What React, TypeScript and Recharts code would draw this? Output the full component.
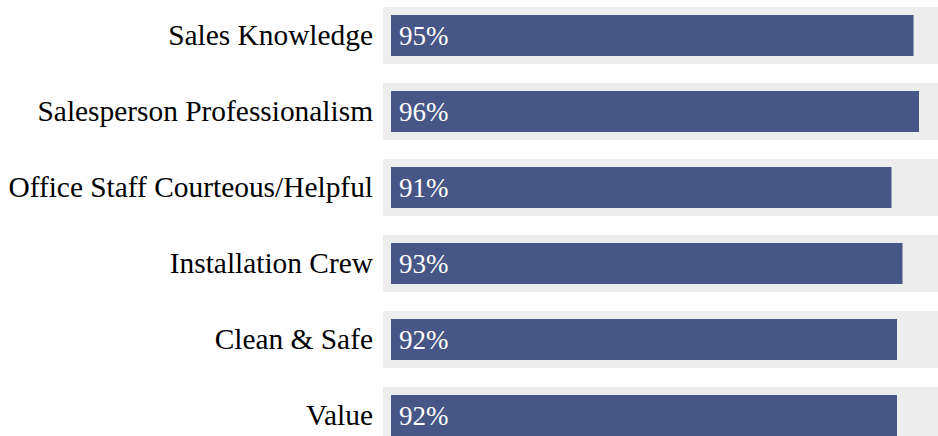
import React from "react";
import { BarChart, Bar, XAxis, YAxis, LabelList } from "recharts";

const categories = [
  "Sales Knowledge",
  "Salesperson Professionalism",
  "Office Staff Courteous/Helpful",
  "Installation Crew",
  "Clean & Safe",
  "Value",
];
const values = [95, 96, 91, 93, 92, 92];

const data = categories.map((name, i) => ({ name, value: values[i] }));

const BAR_COLOR = "#465686";
const BG_COLOR = "#ededed";
const FONT = "Liberation Serif";

const Background = (props: any) => {
  const { x, y, width, height } = props;
  return (
    <rect
      x={x - 8}
      y={y - 8}
      width={width + 16}
      height={height + 16}
      fill={BG_COLOR}
    />
  );
};

const AxisTick = (props: any) => {
  const { x, y, payload } = props;
  return (
    <text
      x={x}
      y={y}
      dy="0.355em"
      textAnchor="end"
      fill="#000"
      style={{ fontFamily: FONT, fontSize: 29.4 }}
    >
      {payload.value}
    </text>
  );
};

const ValueLabel = (props: any) => {
  const { x, y, height, value } = props;
  return (
    <text
      x={x + 8}
      y={y + height / 2}
      dy="0.355em"
      textAnchor="start"
      fill="#fff"
      style={{ fontFamily: FONT, fontSize: 27 }}
    >
      {`${value}%`}
    </text>
  );
};

export default function App() {
  return (
    <div
      style={{
        position: "absolute",
        left: 0,
        top: 0,
        width: 938,
        height: 436,
        overflow: "hidden",
        background: "#fff",
      }}
    >
      <div style={{ position: "absolute", left: 0, top: -3.5 }}>
        <BarChart
          layout="vertical"
          width={950}
          height={456}
          data={data}
          margin={{ top: 0, right: 9, bottom: 0, left: 0 }}
        >
          <XAxis type="number" domain={[0, 100]} hide />
          <YAxis
            type="category"
            dataKey="name"
            width={391}
            axisLine={false}
            tickLine={false}
            tickSize={0}
            tickMargin={18}
            interval={0}
            tick={<AxisTick />}
          />
          <Bar
            dataKey="value"
            fill={BAR_COLOR}
            barSize={41}
            background={<Background />}
            isAnimationActive={false}
          >
            <LabelList dataKey="value" content={<ValueLabel />} />
          </Bar>
        </BarChart>
      </div>
    </div>
  );
}
